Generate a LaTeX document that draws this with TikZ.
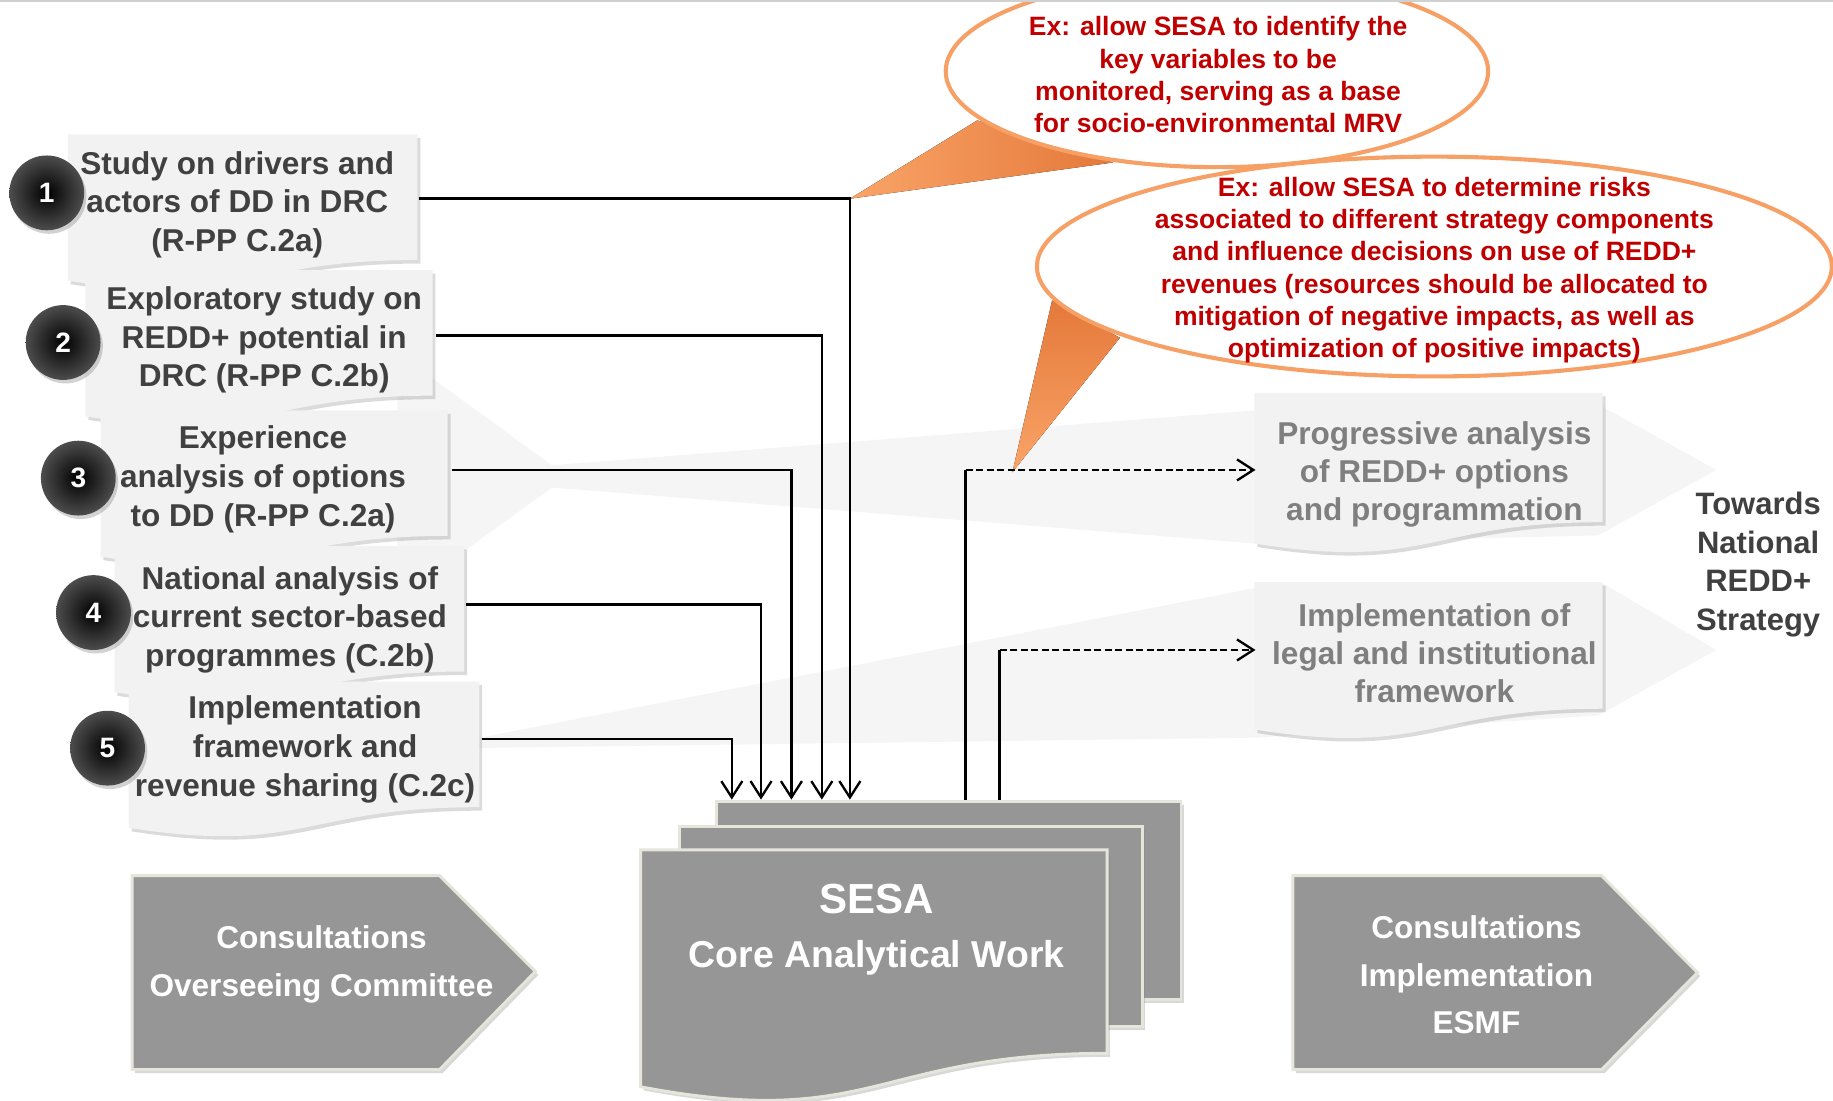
\documentclass[tikz,border=0pt]{standalone}
\usepackage{fontspec}
\setmainfont{Liberation Sans}
\usetikzlibrary{arrows.meta,shadows,shapes.geometric}
\definecolor{boxfill}{HTML}{F2F2F2}
\definecolor{faint}{HTML}{F5F5F5}
\definecolor{txtdark}{HTML}{404040}
\definecolor{txtgrey}{HTML}{7F7F7F}
\definecolor{sheetgrey}{HTML}{969696}
\definecolor{sheetedge}{HTML}{E6E5DC}
\definecolor{calred}{HTML}{C00000}
\definecolor{calorange}{HTML}{F7A066}
\definecolor{taillight}{HTML}{FAA468}
\definecolor{taildark}{HTML}{E4793A}
\definecolor{topline}{HTML}{D0D0D0}
\newcommand\docshape[5]{%
 \pgfmathsetmacro\dsR{#2+#4}%
 \pgfmathsetmacro\dsM{#2+0.5*#4}%
 \pgfmathsetmacro\dsA{#3+0.802*#5}%
 \pgfmathsetmacro\dsB{#3+0.934*#5}%
 \pgfmathsetmacro\dsC{#3+1.1075*#5}%
 \path[#1] (#2,#3) -- (\dsR,#3) -- (\dsR,\dsA) .. controls (\dsM,\dsA) and (\dsM,\dsC) .. (#2,\dsB) -- cycle;%
}
\begin{document}
\begin{tikzpicture}[x=1pt,y=-1pt,
  lightbox/.style={fill=boxfill, drop shadow={opacity=0.28, shadow xshift=2.5pt, shadow yshift=-3pt}},
  sheet/.style={fill=sheetgrey, draw=sheetedge, line width=2.5pt, drop shadow={opacity=0.3, shadow xshift=2.5pt, shadow yshift=-3pt}},
  boxtext/.style={font=\bfseries\fontsize{27}{33}\selectfont, text=txtdark, align=center, inner sep=0pt},
  rtext/.style={font=\bfseries\fontsize{27}{32.5}\selectfont, text=txtgrey, align=center, inner sep=0pt},
  wtext/.style={font=\bfseries\fontsize{27}{40.5}\selectfont, text=white, align=center, inner sep=0pt},
  caltext/.style={font=\bfseries\fontsize{22.7}{27.6}\selectfont, text=calred, align=center, inner sep=0pt},
  calring/.style={ellipse, fill=white, draw=calorange, line width=3.5pt, inner sep=0pt},
  numcirc/.style={circle, minimum size=64pt, inner sep=0pt, inner color=black, outer color=black!70, text=white, font=\bfseries\fontsize{24}{24}\selectfont, drop shadow={opacity=0.35, shadow xshift=2pt, shadow yshift=-3pt}},
  conn/.style={line width=2.2pt, black},
  arr/.style={conn, -{Straight Barb[length=14pt,width=18pt,line width=2pt]}},
  dasharr/.style={conn, line width=2.4pt, dash pattern=on 6pt off 3pt, -{Straight Barb[length=14pt,width=18pt,line width=2pt]}}
]
\useasboundingbox (0,0) rectangle (1568,941);
\clip (0,0) rectangle (1568,941);
\fill[white] (0,0) rectangle (1568,941);

% faint background arrows
\fill[faint] (340,302) -- (472,398) -- (1074,351) -- (1371,348) -- (1468,402) -- (1367,458) -- (1074,465) -- (472,417) -- (340,513) -- cycle;
\fill[faint] (395,634) -- (1074,503) -- (1371,499) -- (1468,556) -- (1367,612) -- (1074,631) -- (395,640) -- cycle;

% callouts
\fill[left color=taillight, right color=taildark] (727,170) -- (836,103) -- (952,139) -- cycle;
\node[calring, minimum width=464pt, minimum height=164pt] (e1) at (1041,61) {};
\node[caltext] (cal1) at (1042,64) {Ex: allow SESA to identify the\\key variables to be\\monitored, serving as a base\\for socio-environmental MRV};
\fill[top color=taildark, bottom color=taillight] (866,404) -- (900,257) -- (958,289) -- cycle;
\node[calring, minimum width=680pt, minimum height=188pt] (e2) at (1227,228) {};
\node[caltext] (cal2) at (1227,231) {Ex: allow SESA to determine risks\\associated to different strategy components\\and influence decisions on use of REDD+\\revenues (resources should be allocated to\\mitigation of negative impacts, as well as\\optimization of positive impacts)};

% left study boxes
\docshape{lightbox}{58}{115}{299}{134}
\node[boxtext] (t1) at (203,175) {Study on drivers and\\actors of DD in DRC\\(R-PP C.2a)};
\docshape{lightbox}{73}{231}{297}{134}
\node[boxtext] (t2) at (226,291) {Exploratory study on\\REDD+ potential in\\DRC (R-PP C.2b)};
\docshape{lightbox}{86}{351}{297}{134}
\node[boxtext] (t3) at (225,410) {Experience\\analysis of options\\to DD (R-PP C.2a)};
\docshape{lightbox}{98}{467}{299}{134}
\node[boxtext] (t4) at (248,530) {National analysis of\\current sector-based\\programmes (C.2b)};
\docshape{lightbox}{110}{583}{300}{134}
\node[boxtext] (t5) at (261,641) {Implementation\\framework and\\revenue sharing (C.2c)};

\node[numcirc] (c1) at (40,165) {1};
\node[numcirc] (c2) at (54,293) {2};
\node[numcirc] (c3) at (67,409) {3};
\node[numcirc] (c4) at (80,524) {4};
\node[numcirc] (c5) at (92,640) {5};

% right boxes
\docshape{lightbox}{1073}{336}{298}{138}
\node[rtext] (p1) at (1227,406) {Progressive analysis\\of REDD+ options\\and programmation};
\docshape{lightbox}{1073}{498}{298}{135}
\node[rtext] (p2) at (1227,559) {Implementation of\\legal and institutional\\framework};
\node[font=\bfseries\fontsize{26.5}{33}\selectfont, text=txtdark, align=center, inner sep=0pt] (tow) at (1504,483) {Towards\\National\\REDD+\\Strategy};

% SESA stacked sheets
\node[sheet, rectangle, minimum width=397pt, minimum height=170pt, inner sep=0pt, anchor=north west] (sb) at (612,684) {};
\node[sheet, rectangle, minimum width=396pt, minimum height=171pt, inner sep=0pt, anchor=north west] (sm) at (580,706) {};
\docshape{sheet}{548}{727}{399}{217}
\node[font=\bfseries\fontsize{36}{36}\selectfont, text=white, inner sep=0pt, anchor=base] (sesa1) at (750,781) {SESA};
\node[font=\bfseries\fontsize{32}{32}\selectfont, text=white, inner sep=0pt, anchor=base] (sesa2) at (750,828) {Core Analytical Work};

% consultation pentagons
\path[sheet] (113,749) -- (376,749) -- (458,831) -- (376,915) -- (113,915) -- cycle;
\node[wtext] (cons1) at (275,825) {Consultations\\Overseeing Committee};
\path[sheet] (1106,749) -- (1370,749) -- (1452,832) -- (1370,915) -- (1106,915) -- cycle;
\node[wtext] (cons2) at (1263,834) {Consultations\\Implementation\\ESMF};

% connector end points
\coordinate (o1) at (358,170);
\coordinate (o2) at (373,287);
\coordinate (o3) at (387,402);
\coordinate (o4) at (399,517);
\coordinate (o5) at (412,632);
\coordinate (i1) at (727,684);
\coordinate (i2) at (703,684);
\coordinate (i3) at (677,684);
\coordinate (i4) at (651,684);
\coordinate (i5) at (626,684);
\coordinate (s1) at (826,684);
\coordinate (s2) at (855,684);
\coordinate (k1) at (826,402);
\coordinate (k2) at (855,556);
\coordinate (q1) at (1074,402);
\coordinate (q2) at (1074,556);

\draw[arr] (o1) -| (i1);
\draw[arr] (o2) -| (i2);
\draw[arr] (o3) -| (i3);
\draw[arr] (o4) -| (i4);
\draw[arr] (o5) -| (i5);
\draw[conn] (s1) -- (k1);
\draw[conn] (s2) -- (k2);
\draw[dasharr] (k1) -- (q1);
\draw[dasharr] (k2) -- (q2);

% top rule
\draw[topline, line width=2pt] (0,1) -- (1568,1);
\end{tikzpicture}
\end{document}
